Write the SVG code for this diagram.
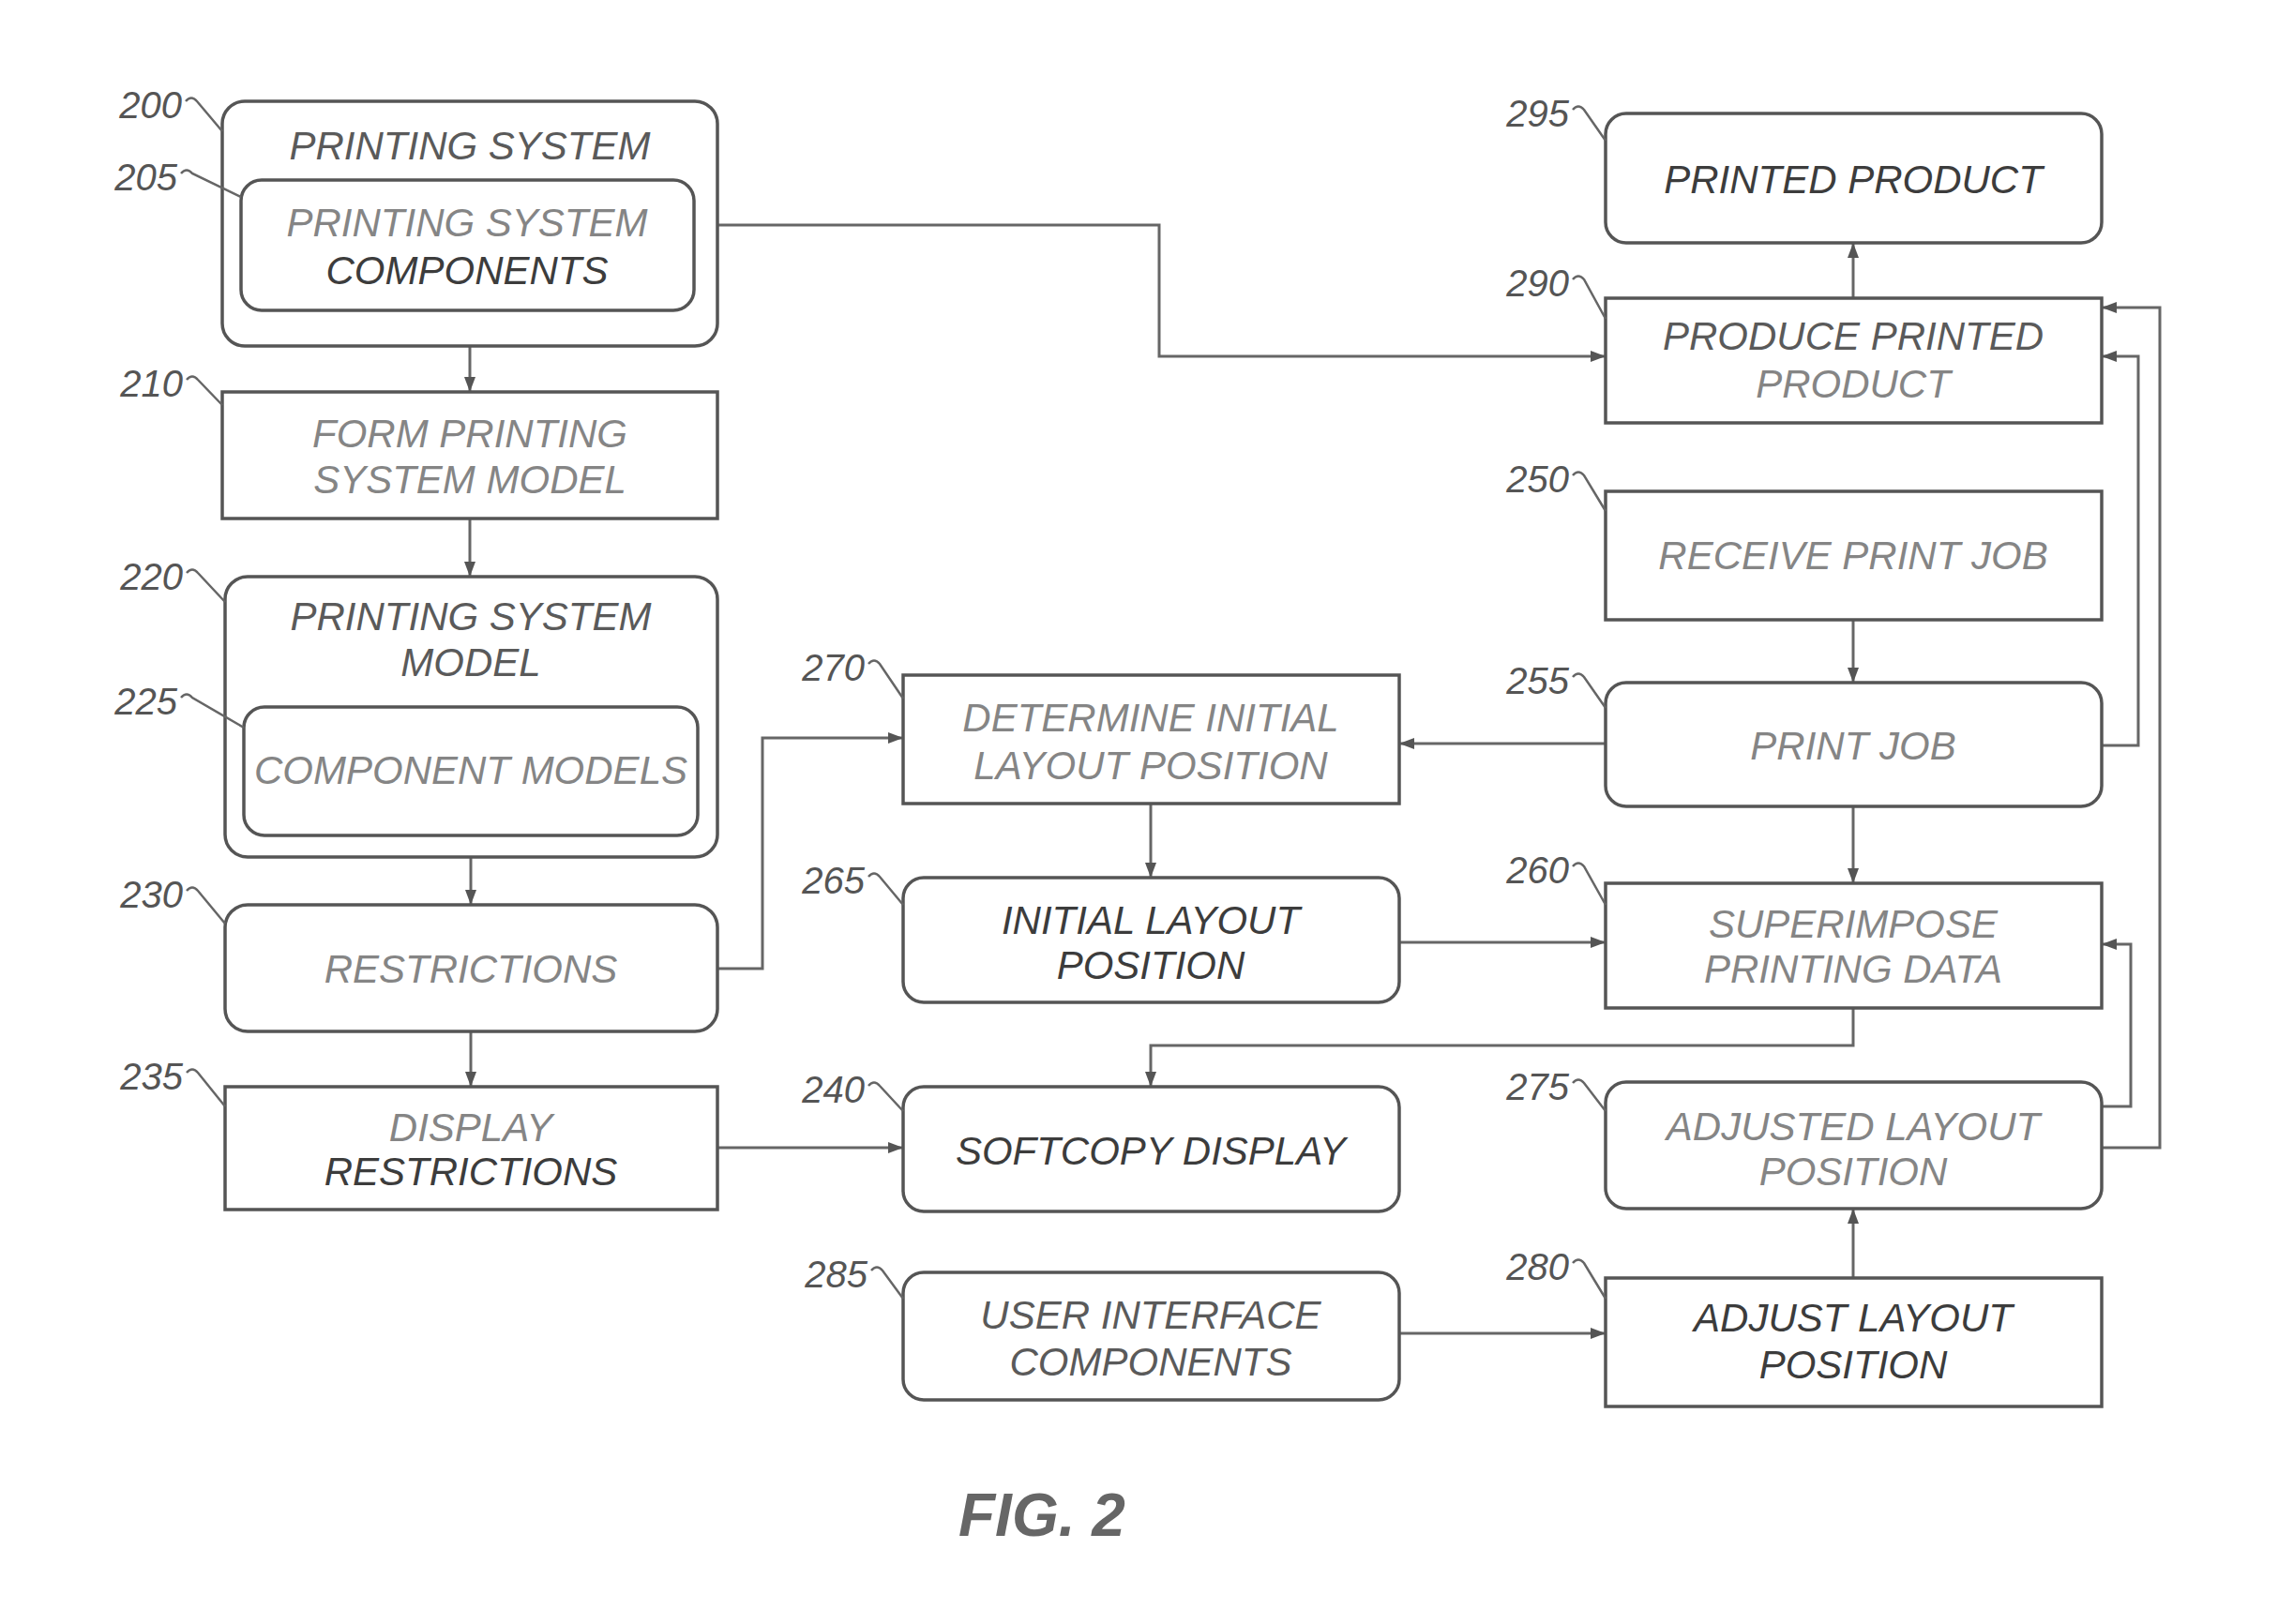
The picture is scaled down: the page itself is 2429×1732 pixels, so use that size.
<svg xmlns="http://www.w3.org/2000/svg" width="2429" height="1732" viewBox="0 0 2429 1732">
<style>
  .box{fill:none;stroke:#555;stroke-width:3.5}
  .t{font-family:"Liberation Sans",Arial,sans-serif;font-style:italic;font-size:42px;text-anchor:middle}
  .d{fill:#3c3c3c}
  .m{fill:#5a5a5a}
  .l{fill:#858585}
  .lab{font-family:"Liberation Sans",Arial,sans-serif;font-style:italic;font-size:40px;fill:#555;text-anchor:end}
  .lead{fill:none;stroke:#666;stroke-width:2.5}
  .con{fill:none;stroke:#666;stroke-width:3}
  .fig{font-family:"Liberation Sans",Arial,sans-serif;font-style:italic;font-weight:bold;font-size:64px;fill:#666}
</style>
<defs>
  <marker id="ah" viewBox="0 0 16 12" refX="16" refY="6" markerWidth="16" markerHeight="12" markerUnits="userSpaceOnUse" orient="auto">
    <path d="M0,0 L16,6 L0,12 z" fill="#555"/>
  </marker>
</defs>
<rect x="0" y="0" width="2429" height="1732" fill="#fff"/>

<g id="connectors">
  <path class="con" d="M765 240 H1236 V380 H1712" marker-end="url(#ah)"/>
  <path class="con" d="M501 369 V418" marker-end="url(#ah)"/>
  <path class="con" d="M501 553 V615" marker-end="url(#ah)"/>
  <path class="con" d="M502 914 V965" marker-end="url(#ah)"/>
  <path class="con" d="M502 1100 V1159" marker-end="url(#ah)"/>
  <path class="con" d="M765 1033 H813 V787 H963" marker-end="url(#ah)"/>
  <path class="con" d="M765 1224 H963" marker-end="url(#ah)"/>
  <path class="con" d="M1227 857 V936" marker-end="url(#ah)"/>
  <path class="con" d="M1492 1005 H1712" marker-end="url(#ah)"/>
  <path class="con" d="M1712 793 H1492" marker-end="url(#ah)"/>
  <path class="con" d="M1976 661 V728" marker-end="url(#ah)"/>
  <path class="con" d="M1976 860 V942" marker-end="url(#ah)"/>
  <path class="con" d="M1976 1075 V1115 H1227 V1159" marker-end="url(#ah)"/>
  <path class="con" d="M1976 1363 V1289" marker-end="url(#ah)"/>
  <path class="con" d="M1492 1422 H1712" marker-end="url(#ah)"/>
  <path class="con" d="M1976 318 V259" marker-end="url(#ah)"/>
  <path class="con" d="M2241 795 H2280 V380 H2241" marker-end="url(#ah)"/>
  <path class="con" d="M2241 1224 H2303 V328 H2241" marker-end="url(#ah)"/>
  <path class="con" d="M2241 1180 H2272 V1007 H2241" marker-end="url(#ah)"/>
</g>

<g id="n200">
  <rect class="box" x="237" y="108" width="528" height="261" rx="24"/>
  <text class="t m" x="501" y="170">PRINTING SYSTEM</text>
  <text class="lab" x="194" y="126">200</text>
  <path class="lead" d="M198 108 q6 -7 12 0 L237 140"/>
</g>
<g id="n205">
  <rect class="box" x="257" y="192" width="483" height="139" rx="22"/>
  <text class="t l" x="498" y="252">PRINTING SYSTEM</text>
  <text class="t d" x="498" y="303">COMPONENTS</text>
  <text class="lab" x="189" y="203">205</text>
  <path class="lead" d="M193 185 q6 -7 12 0 L257 210"/>
</g>
<g id="n210">
  <rect class="box" x="237" y="418" width="528" height="135"/>
  <text class="t l" x="501" y="477">FORM PRINTING</text>
  <text class="t l" x="501" y="526">SYSTEM MODEL</text>
  <text class="lab" x="195" y="423">210</text>
  <path class="lead" d="M199 405 q6 -7 12 0 L237 432"/>
</g>
<g id="n220">
  <rect class="box" x="240" y="615" width="525" height="299" rx="24"/>
  <text class="t m" x="502" y="672">PRINTING SYSTEM</text>
  <text class="t m" x="502" y="721">MODEL</text>
  <text class="lab" x="195" y="629">220</text>
  <path class="lead" d="M199 611 q6 -7 12 0 L240 642"/>
</g>
<g id="n225">
  <rect class="box" x="260" y="754" width="484" height="137" rx="22"/>
  <text class="t l" x="502" y="836">COMPONENT MODELS</text>
  <text class="lab" x="189" y="762">225</text>
  <path class="lead" d="M193 744 q6 -7 12 0 L260 776"/>
</g>
<g id="n230">
  <rect class="box" x="240" y="965" width="525" height="135" rx="24"/>
  <text class="t l" x="502" y="1048">RESTRICTIONS</text>
  <text class="lab" x="195" y="968">230</text>
  <path class="lead" d="M199 950 q6 -7 12 0 L240 985"/>
</g>
<g id="n235">
  <rect class="box" x="240" y="1159" width="525" height="131"/>
  <text class="t l" x="502" y="1217">DISPLAY</text>
  <text class="t d" x="502" y="1264">RESTRICTIONS</text>
  <text class="lab" x="195" y="1162">235</text>
  <path class="lead" d="M199 1144 q6 -7 12 0 L240 1180"/>
</g>
<g id="n270">
  <rect class="box" x="963" y="720" width="529" height="137"/>
  <text class="t l" x="1227" y="780">DETERMINE INITIAL</text>
  <text class="t l" x="1227" y="831">LAYOUT POSITION</text>
  <text class="lab" x="922" y="726">270</text>
  <path class="lead" d="M926 708 q6 -7 12 0 L963 745"/>
</g>
<g id="n265">
  <rect class="box" x="963" y="936" width="529" height="133" rx="22"/>
  <text class="t d" x="1227" y="996">INITIAL LAYOUT</text>
  <text class="t d" x="1227" y="1044">POSITION</text>
  <text class="lab" x="922" y="953">265</text>
  <path class="lead" d="M926 935 q6 -7 12 0 L963 965"/>
</g>
<g id="n240">
  <rect class="box" x="963" y="1159" width="529" height="133" rx="22"/>
  <text class="t d" x="1227" y="1242">SOFTCOPY DISPLAY</text>
  <text class="lab" x="922" y="1176">240</text>
  <path class="lead" d="M926 1158 q6 -7 12 0 L963 1185"/>
</g>
<g id="n285">
  <rect class="box" x="963" y="1357" width="529" height="136" rx="22"/>
  <text class="t m" x="1227" y="1417">USER INTERFACE</text>
  <text class="t m" x="1227" y="1467">COMPONENTS</text>
  <text class="lab" x="925" y="1373">285</text>
  <path class="lead" d="M929 1355 q6 -7 12 0 L963 1385"/>
</g>
<g id="n295">
  <rect class="box" x="1712" y="121" width="529" height="138" rx="22"/>
  <text class="t d" x="1976" y="206">PRINTED PRODUCT</text>
  <text class="lab" x="1673" y="135">295</text>
  <path class="lead" d="M1677 117 q6 -7 12 0 L1712 150"/>
</g>
<g id="n290">
  <rect class="box" x="1712" y="318" width="529" height="133"/>
  <text class="t m" x="1976" y="373">PRODUCE PRINTED</text>
  <text class="t l" x="1976" y="424">PRODUCT</text>
  <text class="lab" x="1673" y="316">290</text>
  <path class="lead" d="M1677 298 q6 -7 12 0 L1712 340"/>
</g>
<g id="n250">
  <rect class="box" x="1712" y="524" width="529" height="137"/>
  <text class="t l" x="1976" y="607">RECEIVE PRINT JOB</text>
  <text class="lab" x="1673" y="525">250</text>
  <path class="lead" d="M1677 507 q6 -7 12 0 L1712 545"/>
</g>
<g id="n255">
  <rect class="box" x="1712" y="728" width="529" height="132" rx="22"/>
  <text class="t l" x="1976" y="810">PRINT JOB</text>
  <text class="lab" x="1673" y="740">255</text>
  <path class="lead" d="M1677 722 q6 -7 12 0 L1712 755"/>
</g>
<g id="n260">
  <rect class="box" x="1712" y="942" width="529" height="133"/>
  <text class="t l" x="1976" y="1000">SUPERIMPOSE</text>
  <text class="t l" x="1976" y="1048">PRINTING DATA</text>
  <text class="lab" x="1673" y="942">260</text>
  <path class="lead" d="M1677 924 q6 -7 12 0 L1712 965"/>
</g>
<g id="n275">
  <rect class="box" x="1712" y="1154" width="529" height="135" rx="22"/>
  <text class="t l" x="1976" y="1216">ADJUSTED LAYOUT</text>
  <text class="t l" x="1976" y="1264">POSITION</text>
  <text class="lab" x="1673" y="1173">275</text>
  <path class="lead" d="M1677 1155 q6 -7 12 0 L1712 1185"/>
</g>
<g id="n280">
  <rect class="box" x="1712" y="1363" width="529" height="137"/>
  <text class="t d" x="1976" y="1420">ADJUST LAYOUT</text>
  <text class="t d" x="1976" y="1470">POSITION</text>
  <text class="lab" x="1673" y="1365">280</text>
  <path class="lead" d="M1677 1347 q6 -7 12 0 L1712 1385"/>
</g>

<text class="fig" x="1022" y="1638">FIG. 2</text>
</svg>
